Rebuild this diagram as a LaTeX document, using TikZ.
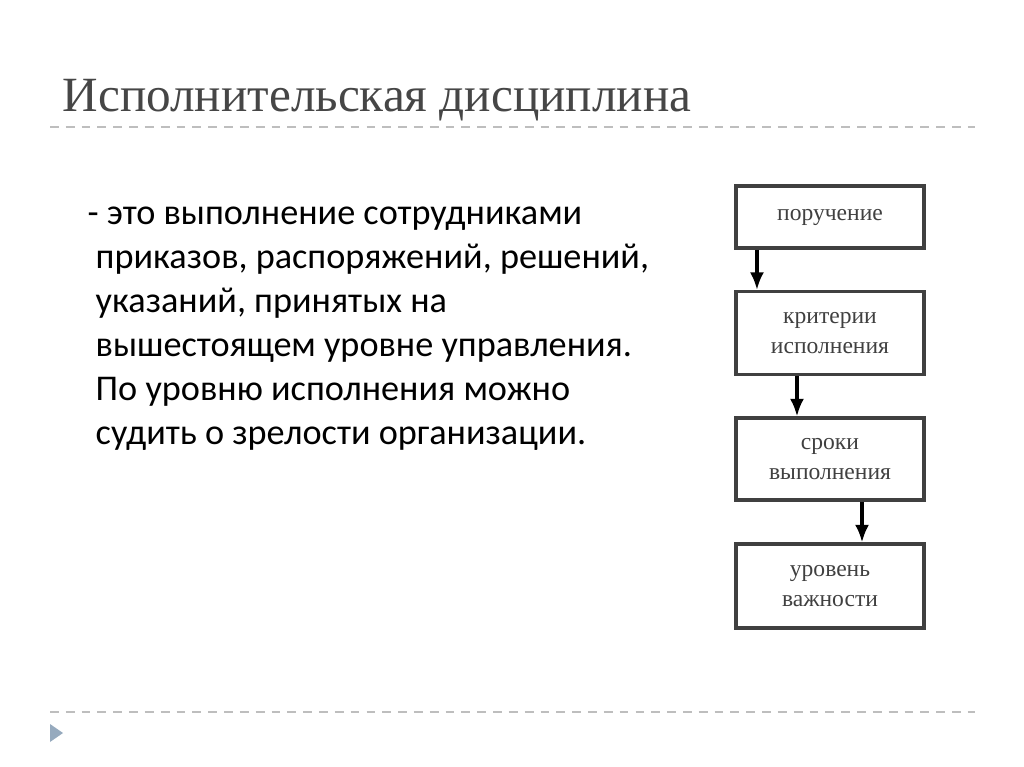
\documentclass[tikz,border=0pt]{standalone}
\usepackage{fontspec}
\setmainfont{Liberation Serif}
\newfontfamily\bodyfont{Carlito}
\usetikzlibrary{positioning,arrows.meta}
\definecolor{titlegray}{RGB}{70,70,70}
\definecolor{rulegray}{RGB}{190,190,190}
\definecolor{bulletblue}{RGB}{150,170,190}
\begin{document}
\begin{tikzpicture}[x=0.01cm,y=-0.01cm]
    \tikzstyle{stage} = [rectangle, draw=black!75, line width=0.9pt, minimum width=1.88cm,
               text width=1.8cm, align=center, font=\fontsize{6.7}{8.4}\selectfont,
               text=black!75, inner sep=0pt]
    \tikzstyle{line} = [draw, line width=0.9pt, -{Latex[length=5pt,width=4pt]}]

    \useasboundingbox (0,0) rectangle (1024,767);
    \fill[white] (0,0) rectangle (1024,767);

    % Title and rules
    \node[anchor=west, text=titlegray, font=\fontsize{14}{16}\selectfont, inner sep=0pt] (title) at (62,100)
      {Исполнительская дисциплина};
    \draw[rulegray, dash pattern=on 2.5pt off 2pt, line width=0.5pt] (50,127) -- (975,127);
    \draw[rulegray, dash pattern=on 2.5pt off 2pt, line width=0.5pt] (50,712) -- (975,712);
    \fill[bulletblue] (50,724) -- (63,733) -- (50,742) -- cycle;

    % Definition text
    \node[anchor=north west, align=left, inner sep=0pt,
      font=\bodyfont\fontsize{10.3}{12.5}\selectfont] (defn) at (87,206)
      {- это выполнение сотрудниками\\
       \hspace*{0.08cm}приказов, распоряжений, решений,\\
       \hspace*{0.08cm}указаний, принятых на\\
       \hspace*{0.08cm}вышестоящем уровне управления.\\
       \hspace*{0.08cm}По уровню исполнения можно\\
       \hspace*{0.08cm}судить о зрелости организации.};

    % Stages
    \node[stage, minimum height=0.62cm] (order) at (830,217) {поручение};
    \node[stage, minimum height=0.83cm] (crit) at (830,333) {критерии\\исполнения};
    \node[stage, minimum height=0.82cm] (term) at (830,459) {сроки\\выполнения};
    \node[stage, minimum height=0.84cm] (level) at (830,586) {уровень\\важности};

    \path[line] ([xshift=-0.73cm]order.south) -- ([xshift=-0.73cm]crit.north);
    \path[line] ([xshift=-0.33cm]crit.south) -- ([xshift=-0.33cm]term.north);
    \path[line] ([xshift=0.32cm]term.south) -- ([xshift=0.32cm]level.north);
\end{tikzpicture}
\end{document}
